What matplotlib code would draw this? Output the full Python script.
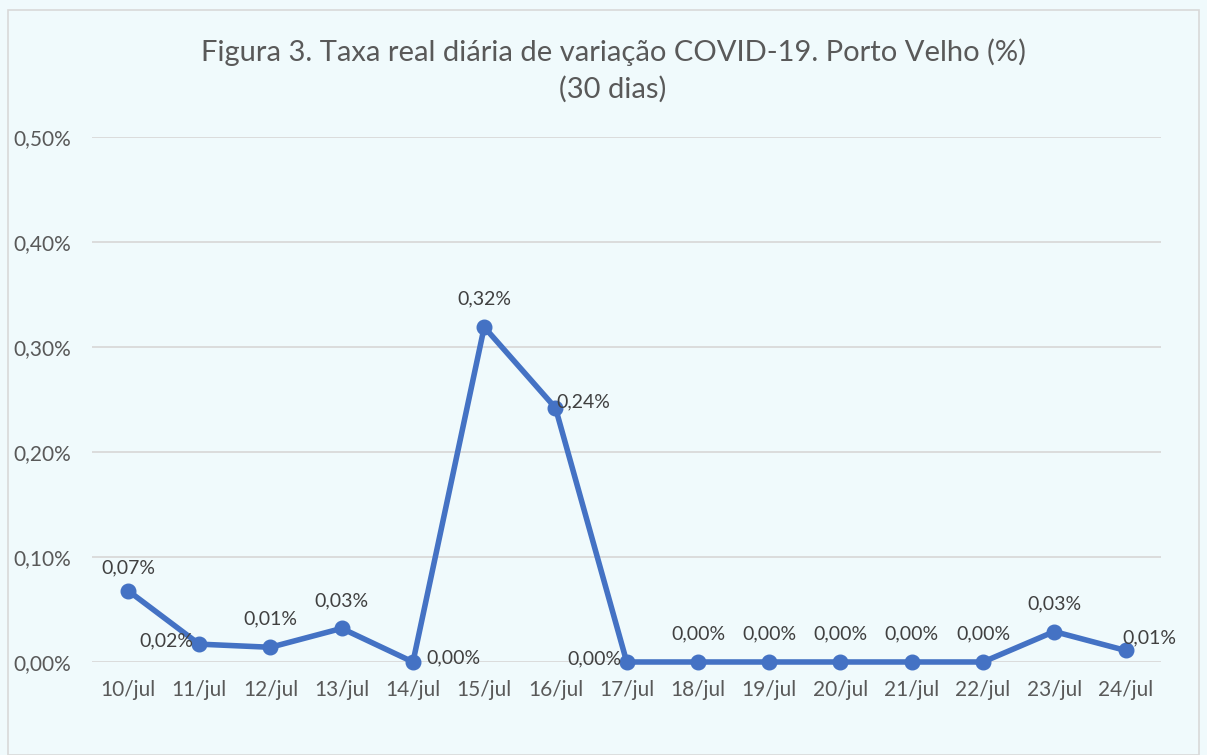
import matplotlib.pyplot as plt

dias = ["10/jul", "11/jul", "12/jul", "13/jul", "14/jul", "15/jul", "16/jul", "17/jul",
        "18/jul", "19/jul", "20/jul", "21/jul", "22/jul", "23/jul", "24/jul"]
taxa = [0.068, 0.017, 0.014, 0.032, 0.0, 0.319, 0.242, 0.0,
        0.0, 0.0, 0.0, 0.0, 0.0, 0.029, 0.011]
rotulos = ["0,07%", "0,02%", "0,01%", "0,03%", "0,00%", "0,32%", "0,24%", "0,00%",
           "0,00%", "0,00%", "0,00%", "0,00%", "0,00%", "0,03%", "0,01%"]
posicao = ["acima", "esq", "acima", "acima", "dir", "acima", "dir", "esq",
           "acima", "acima", "acima", "acima", "acima", "acima", "dir"]
ticks_y = [0.0, 0.1, 0.2, 0.3, 0.4, 0.5]

# deslocamentos especiais de alguns rótulos (pontos)
desloc = {0: (0, 10), 4: (10, 3), 6: (1, 4), 14: (-2, 9)}

plt.rcParams["font.family"] = ["Lato", "DejaVu Sans"]

fundo = "#F0FAFC"
fig = plt.figure(figsize=(12.07, 7.55), dpi=100, facecolor=fundo)
fig.patches.append(plt.Rectangle((0.007, 0.0), 0.986, 0.987, transform=fig.transFigure,
                                 fill=False, edgecolor="#D9D9D9", linewidth=1.2))
ax = fig.add_axes([0.0765, 0.1232, 0.8855, 0.6953])
ax.set_facecolor(fundo)

x = list(range(len(dias)))
ax.plot(x, taxa, color="#4472C4", linewidth=4, marker="o", markersize=10.5,
        solid_joinstyle="round", zorder=3, clip_on=False)

for i, (v, r, p) in enumerate(zip(taxa, rotulos, posicao)):
    if p == "acima":
        off, ha, va = (0, 14), "center", "bottom"
    elif p == "esq":
        off, ha, va = (-4, 2), "right", "center"
    else:
        off, ha, va = (4, 5), "left", "center"
    off = desloc.get(i, off)
    ax.annotate(r, (i, v), textcoords="offset points", xytext=off, ha=ha, va=va,
                fontsize=14, color="#404040", zorder=4)

ax.set_xlim(-0.5, len(dias) - 0.5)
ax.set_ylim(0, 0.5)
ax.set_xticks(x)
ax.set_xticklabels(dias)
ax.set_yticks(ticks_y)
ax.set_yticklabels([f"{t:.2f}%".replace(".", ",") for t in ticks_y])
ax.tick_params(length=0, labelsize=15, colors="#595959")
ax.tick_params(axis="x", pad=13)
ax.tick_params(axis="y", pad=15)
ax.grid(axis="y", color="#D9D9D9", linewidth=1.3)
ax.set_axisbelow(True)
for s in ax.spines.values():
    s.set_visible(False)

fig.text(0.508, 0.906, "Figura 3. Taxa real diária de variação COVID-19. Porto Velho (%)\n(30 dias)",
         ha="center", va="center", fontsize=21, color="#595959", linespacing=1.45)

fig.savefig("out.png", dpi=100, facecolor=fundo)
